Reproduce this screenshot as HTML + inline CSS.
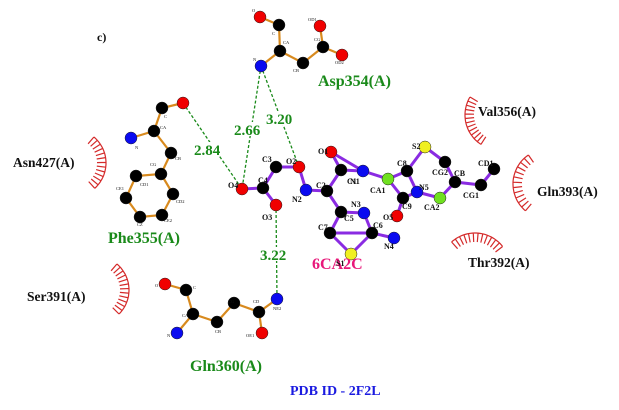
<!DOCTYPE html>
<html><head><meta charset="utf-8"><style>
html,body{margin:0;padding:0;background:#fff;}
svg{display:block;font-family:"Liberation Serif",serif;}
.rl{font-weight:bold;font-size:16px;fill:#1a8a1a;}
.bl{font-weight:bold;font-size:13.5px;fill:#111;}
.al{font-weight:bold;font-size:8px;fill:#111;}
.sl{font-size:4.5px;fill:#111;}
.hd{font-weight:bold;font-size:15px;fill:#1a8a1a;}
</style></head><body>
<svg id="s" width="619" height="410" viewBox="0 0 619 410">
<text x="97" y="41" class="bl" style="font-size:12px">c)</text>
<g stroke="#1a8a1a" stroke-width="1.3" stroke-dasharray="3,2" fill="none">
<line x1="183" y1="103" x2="242" y2="189"/>
<line x1="261" y1="66" x2="242" y2="189"/>
<line x1="261" y1="66" x2="299" y2="167"/>
<line x1="276" y1="205" x2="277" y2="299"/>
</g>
<g fill="#fff">
<rect x="195" y="142" width="32" height="14"/>
<rect x="234" y="122" width="32" height="14"/>
<rect x="265" y="111" width="32" height="14"/>
<rect x="260" y="247" width="32" height="14"/>
</g>
<text x="194" y="155" class="hd">2.84</text>
<text x="234" y="135" class="hd">2.66</text>
<text x="266" y="124" class="hd">3.20</text>
<text x="260" y="260" class="hd">3.22</text>
<g stroke="#d88a1e" stroke-width="2.2" fill="none">
<polyline points="260,17 279,25 280,51 261,66"/>
<polyline points="280,51 303,63 323,47 320,26"/>
<line x1="323" y1="47" x2="342" y2="55"/>
<polyline points="183,103 162,108 154,131 131,138"/>
<polyline points="154,131 171,153 161,174 136,176 126,198 140,217 162,215 173,194 161,174"/>
<polyline points="165,284 186,290 193,314 177,333"/>
<polyline points="193,314 217,322 234,303 259,312 277,299"/>
<line x1="259" y1="312" x2="262" y2="333"/>
</g>
<g stroke="#8a2be2" stroke-width="3" fill="none">
<line x1="242" y1="189" x2="263" y2="188"/>
<line x1="263" y1="188" x2="276" y2="205"/>
<line x1="263" y1="188" x2="276" y2="167"/>
<line x1="276" y1="167" x2="299" y2="167"/>
<line x1="299" y1="167" x2="306" y2="190"/>
<line x1="306" y1="190" x2="327" y2="191"/>
<line x1="327" y1="191" x2="341" y2="170"/>
<line x1="341" y1="170" x2="331" y2="152"/>
<line x1="331" y1="152" x2="363" y2="171"/>
<line x1="341" y1="170" x2="363" y2="171"/>
<line x1="327" y1="191" x2="341" y2="212"/>
<line x1="341" y1="212" x2="364" y2="213"/>
<line x1="364" y1="213" x2="372" y2="233"/>
<line x1="341" y1="212" x2="330" y2="233"/>
<line x1="330" y1="233" x2="372" y2="233"/>
<line x1="330" y1="233" x2="351" y2="254"/>
<line x1="351" y1="254" x2="372" y2="233"/>
<line x1="372" y1="233" x2="394" y2="238"/>
<line x1="363" y1="171" x2="388" y2="179"/>
<line x1="388" y1="179" x2="407" y2="171"/>
<line x1="388" y1="179" x2="403" y2="198"/>
<line x1="407" y1="171" x2="417" y2="192"/>
<line x1="403" y1="198" x2="417" y2="192"/>
<line x1="403" y1="198" x2="397" y2="216"/>
<line x1="407" y1="171" x2="425" y2="147"/>
<line x1="425" y1="147" x2="445" y2="162"/>
<line x1="445" y1="162" x2="455" y2="182"/>
<line x1="455" y1="182" x2="481" y2="185"/>
<line x1="481" y1="185" x2="494" y2="169"/>
<line x1="417" y1="192" x2="440" y2="198"/>
<line x1="440" y1="198" x2="455" y2="182"/>
</g>
<g id="arcs" stroke="#d42a2a" stroke-width="1.2" fill="none"></g>
<g id="atoms" stroke="#222" stroke-width="0.5"></g>
<text x="318" y="86" class="rl">Asp354(A)</text>
<text x="108" y="243" class="rl">Phe355(A)</text>
<text x="190" y="371" class="rl">Gln360(A)</text>
<text x="312" y="269" class="rl" style="fill:#e8187a">6CA2C</text>
<text x="290" y="395" class="rl" style="fill:#1a1ae0;font-size:14px">PDB ID - 2F2L</text>
<text x="13" y="167" class="bl">Asn427(A)</text>
<text x="27" y="301" class="bl">Ser391(A)</text>
<text x="478" y="116" class="bl">Val356(A)</text>
<text x="537" y="196" class="bl">Gln393(A)</text>
<text x="468" y="267" class="bl">Thr392(A)</text>
<g class="al">
<text x="318" y="154">O1</text><text x="347" y="184">C1</text><text x="350" y="184">N1</text>
<text x="370" y="193">CA1</text><text x="397" y="166">C8</text><text x="412" y="149">S2</text>
<text x="432" y="175">CG2</text><text x="454" y="176">CB</text><text x="478" y="166">CD1</text>
<text x="463" y="198">CG1</text><text x="424" y="210">CA2</text><text x="419" y="190">N5</text>
<text x="402" y="209">C9</text><text x="383" y="220">O5</text>
<text x="262" y="162">C3</text><text x="286" y="164">O2</text><text x="228" y="188">O4</text>
<text x="258" y="183">C4</text><text x="292" y="202">N2</text><text x="316" y="188">C2</text>
<text x="262" y="220">O3</text><text x="351" y="207">N3</text><text x="344" y="221">C5</text>
<text x="373" y="228">C6</text><text x="318" y="230">C7</text><text x="336" y="266">S1</text>
<text x="384" y="249">N4</text>
</g>
<g class="sl">
<text x="252" y="12">O</text><text x="272" y="35">C</text><text x="283" y="44">CA</text><text x="253" y="61">N</text>
<text x="293" y="72">CB</text><text x="314" y="41">CG</text><text x="308" y="21">OD1</text><text x="335" y="64">OD2</text>
<text x="164" y="118">C</text><text x="160" y="129">CA</text><text x="135" y="149">N</text><text x="175" y="160">CB</text>
<text x="150" y="166">CG</text><text x="140" y="186">CD1</text><text x="116" y="190">CE1</text><text x="137" y="226">CZ</text>
<text x="164" y="222">CE2</text><text x="176" y="203">CD2</text>
<text x="155" y="287">O</text><text x="193" y="289">C</text><text x="182" y="317">CA</text><text x="167" y="337">N</text>
<text x="215" y="333">CB</text><text x="228" y="303">CG</text><text x="253" y="303">CD</text><text x="273" y="310">NE2</text>
<text x="246" y="337">OE1</text>
</g>
<script>
(function(){
var ns="http://www.w3.org/2000/svg";
var A=document.getElementById('arcs');
function arc(cx,cy,r,a0,a1){
 var d="",n=12;
 for(var i=0;i<=30;i++){var a=(a0+(a1-a0)*i/30)*Math.PI/180;d+=(i?"L":"M")+(cx+r*Math.cos(a)).toFixed(1)+","+(cy+r*Math.sin(a)).toFixed(1);}
 for(var i=0;i<=n;i++){var a=(a0+(a1-a0)*i/n)*Math.PI/180;
  d+="M"+(cx+r*Math.cos(a)).toFixed(1)+","+(cy+r*Math.sin(a)).toFixed(1)+"L"+(cx+(r-9)*Math.cos(a)).toFixed(1)+","+(cy+(r-9)*Math.sin(a)).toFixed(1);}
 var p=document.createElementNS(ns,'path');p.setAttribute('d',d);A.appendChild(p);
}
arc(72,163,34,-50,48);
arc(95,290,34,-50,45);
arc(500,115,35,123,211);
arc(548,184,35,130,236);
arc(475,268,35,228,322);
var G=document.getElementById('atoms');
var C={k:'#000',o:'#f00000',n:'#0a0af0',s:'#f0f020',g:'#70e020'};
var at=[
[260,17,'o'],[279,25,'k'],[280,51,'k'],[261,66,'n'],[303,63,'k'],[323,47,'k'],[320,26,'o'],[342,55,'o'],
[183,103,'o'],[162,108,'k'],[154,131,'k'],[131,138,'n'],[171,153,'k'],[161,174,'k'],[136,176,'k'],[126,198,'k'],[140,217,'k'],[162,215,'k'],[173,194,'k'],
[165,284,'o'],[186,290,'k'],[193,314,'k'],[177,333,'n'],[217,322,'k'],[234,303,'k'],[259,312,'k'],[277,299,'n'],[262,333,'o'],
[242,189,'o'],[263,188,'k'],[276,205,'o'],[276,167,'k'],[299,167,'o'],[306,190,'n'],[327,191,'k'],[341,170,'k'],[331,152,'o'],[363,171,'n'],
[341,212,'k'],[364,213,'n'],[372,233,'k'],[330,233,'k'],[351,254,'s'],[394,238,'n'],[388,179,'g'],[407,171,'k'],[403,198,'k'],[417,192,'n'],
[397,216,'o'],[425,147,'s'],[445,162,'k'],[455,182,'k'],[481,185,'k'],[494,169,'k'],[440,198,'g']];
at.forEach(function(a){var c=document.createElementNS(ns,'circle');c.setAttribute('cx',a[0]);c.setAttribute('cy',a[1]);c.setAttribute('r',6);c.setAttribute('fill',C[a[2]]);G.appendChild(c);});
})();
</script>
</svg>
</body></html>
